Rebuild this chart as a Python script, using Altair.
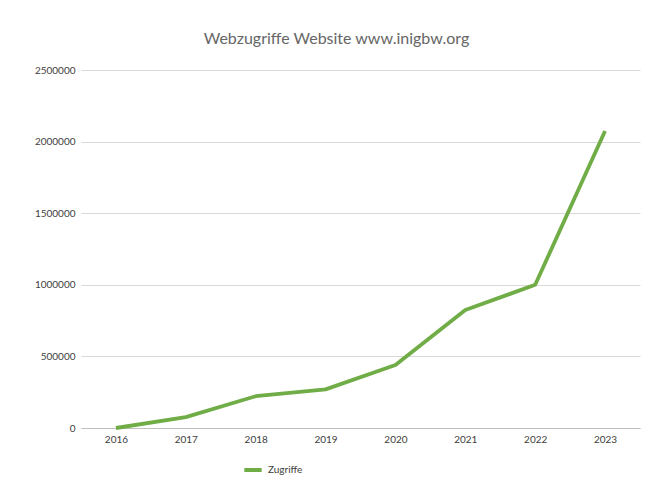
import altair as alt
import pandas as pd

years = ["2016", "2017", "2018", "2019", "2020", "2021", "2022", "2023"]
zugriffe = [0, 76000, 222000, 270000, 440000, 824000, 1000000, 2074000]
series = ["Zugriffe"] * len(years)
y_ticks = [0, 500000, 1000000, 1500000, 2000000, 2500000]

df = pd.DataFrame({"Jahr": years, "Zugriffe": zugriffe, "Serie": series})

FONT = "Lato"

chart = alt.Chart(df).mark_line(strokeWidth=3.8, strokeJoin="round").encode(
    x=alt.X("Jahr:O", scale=alt.Scale(type="point", padding=0.5),
            axis=alt.Axis(title=None, labelAngle=0, ticks=False, domain=True,
                          domainColor="#bfbfbf", domainWidth=1.2, grid=False,
                          labelFontSize=10, labelColor="#404040", labelPadding=6,
                          labelFont=FONT)),
    y=alt.Y("Zugriffe:Q", scale=alt.Scale(domain=[0, 2500000], nice=False),
            axis=alt.Axis(title=None, values=y_ticks, format="d", ticks=False,
                          domain=False, grid=True, gridColor="#d9d9d9",
                          labelFontSize=10, labelColor="#404040", labelPadding=6,
                          labelFont=FONT)),
    color=alt.Color("Serie:N", scale=alt.Scale(range=["#70ad47"]),
                    legend=alt.Legend(title=None, orient="none", legendX=161, legendY=389,
                                      symbolType="stroke", symbolStrokeWidth=4,
                                      symbolSize=300, labelFontSize=10,
                                      labelColor="#404040", labelFont=FONT)),
).properties(
    width=559,
    height=358,
    padding={"left": 73, "top": 62, "right": 4, "bottom": 58},
    autosize=alt.AutoSizeParams(type="none"),
    title=alt.TitleParams("Webzugriffe Website www.inigbw.org", fontSize=16,
                          font=FONT, fontWeight="normal", color="#666666",
                          anchor="middle", dx=-24, offset=18),
).configure_view(stroke=None)

chart.save("out.html", embed_options={"renderer": "svg", "actions": False})
